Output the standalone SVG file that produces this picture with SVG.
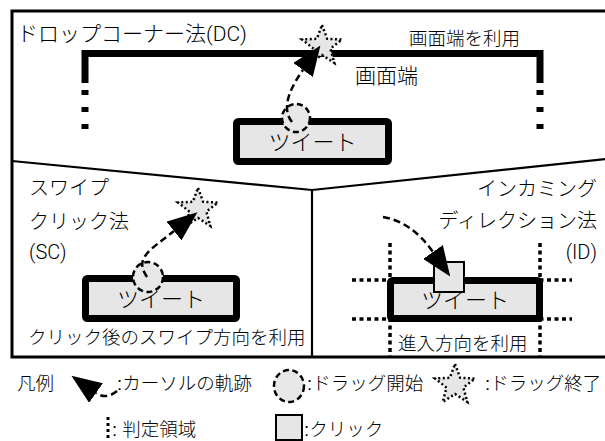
<svg xmlns="http://www.w3.org/2000/svg" width="605" height="441" viewBox="0 0 605 441">
<style>
text{font-family:'Liberation Sans','Noto Sans CJK JP',sans-serif;fill:#000;font-weight:300}
.lat{font-family:Roboto,'Liberation Sans',sans-serif;font-weight:300}
.t21{font-size:21px}.t20{font-size:20px}.t18{font-size:18.5px}.tw{font-size:22px;text-anchor:middle}
.frame{fill:none;stroke:#000;stroke-width:3}
.div{fill:none;stroke:#000;stroke-width:2.2}
.tweet{fill:#e6e6e6;stroke:#000;stroke-width:7;stroke-linejoin:round}
.thick{fill:none;stroke:#000;stroke-width:7}
.thickdot{fill:none;stroke:#000;stroke-width:7;stroke-dasharray:5 12}
.zone{fill:none;stroke:#000;stroke-width:3.5;stroke-dasharray:4 3.5}
.drag{fill:#e8e8e8;stroke:#000;stroke-width:2.5;stroke-dasharray:6 3.5}
.star{fill:#e6e6e6;stroke:#000;stroke-width:2.5;stroke-dasharray:2 2.5}
.click{fill:#e6e6e6;stroke:#000;stroke-width:2}
.trail{fill:none;stroke:#000;stroke-width:2.5;stroke-dasharray:7 4;marker-end:url(#head)}
</style>
<defs>
<marker id="head" viewBox="0 0 30 24" refX="0" refY="12" markerWidth="30" markerHeight="24" markerUnits="userSpaceOnUse" orient="auto">
<path d="M0,0 L30,12 L0,24 Z" fill="#000"/>
</marker>
<path id="starShape" d="M0,-21 L5.2,-7.2 L19.97,-6.49 L8.4,2.7 L12.34,16.99 L0,8.9 L-12.34,16.99 L-8.4,2.7 L-19.97,-6.49 L-5.2,-7.2 Z"/>
</defs>

<g id="frame">
<rect class="frame" x="12" y="11" width="600" height="346"/>
<path class="div" d="M12,161 L312,190 L607,159"/>
<path class="div" d="M312,190 V357"/>
</g>

<g id="dc-panel">
<text class="t21" x="17" y="41">ドロップコーナー法<tspan class="lat">(DC)</tspan></text>
<text class="t18" x="409" y="45">画面端を利用</text>
<path class="thick" d="M85,83 V53.5 H540 V83"/>
<path class="thickdot" d="M85,90 V131 M540,90 V131"/>
<text class="t21" x="355" y="83">画面端</text>
</g>
<g id="dc-tweet">
<rect class="tweet" x="236.5" y="121.5" width="152" height="40" rx="2"/>
<text class="tw" x="312.5" y="150">ツイート</text>
</g>
<g id="dc-start"><circle class="drag" cx="296" cy="118" r="14"/></g>
<g id="dc-end"><use href="#starShape" class="star" x="322" y="46"/></g>

<g id="sc-panel">
<text class="t20" x="29" y="195">スワイプ</text>
<text class="t20" x="29" y="229">クリック法</text>
<text class="t20 lat" x="29" y="259">(SC)</text>
<text class="t18" x="28" y="344">クリック後のスワイプ方向を利用</text>
</g>
<g id="sc-tweet">
<rect class="tweet" x="85.5" y="278.5" width="151" height="40" rx="2"/>
<text class="tw" x="161" y="307">ツイート</text>
</g>
<g id="sc-start"><circle class="drag" cx="148" cy="277" r="15"/></g>
<g id="sc-end"><use href="#starShape" class="star" x="198" y="209"/></g>

<g id="id-panel">
<text class="t20" x="597" y="196" text-anchor="end">インカミング</text>
<text class="t20" x="597" y="228" text-anchor="end">ディレクション法</text>
<text class="t20 lat" x="597" y="259" text-anchor="end">(ID)</text>
<path class="zone" d="M352,280 H572 M352,319 H572 M390,243 V357 M540,243 V357"/>
</g>
<g id="id-tweet">
<rect class="tweet" x="390.5" y="280.5" width="149" height="38" rx="2"/>
<text class="tw" x="465" y="308">ツイート</text>
</g>
<g id="id-click"><rect class="click" x="434" y="262" width="30" height="30"/></g>
<g id="id-text"><text class="t18" x="398" y="350">進入方向を利用</text></g>

<g id="connectors">
<path class="trail" d="M292,122 Q278,105 303,70"/>
<path class="trail" d="M147,277 C134,258 149,251 174,231"/>
<path class="trail" d="M383,217 Q412,222 433,252"/>
</g>

<g id="legend">
<text class="t18" x="17" y="390">凡例</text>
<path class="trail" d="M117,391 Q106,400 96,393"/>
<text class="t18" x="117" y="390">:カーソルの軌跡</text>
<ellipse class="drag" cx="289" cy="386" rx="15" ry="16"/>
<text class="t18" x="307" y="390">:ドラッグ開始</text>
<use href="#starShape" class="star" x="455" y="385"/>
<text class="t18" x="485" y="390">:ドラッグ終了</text>
<path class="zone" d="M108,417 V440" style="stroke-width:3;stroke-dasharray:3 3"/>
<text class="t18" x="112" y="436">: 判定領域</text>
<rect class="click" x="276" y="415" width="26" height="25"/>
<text class="t18" x="304" y="436">:クリック</text>
</g>
</svg>
